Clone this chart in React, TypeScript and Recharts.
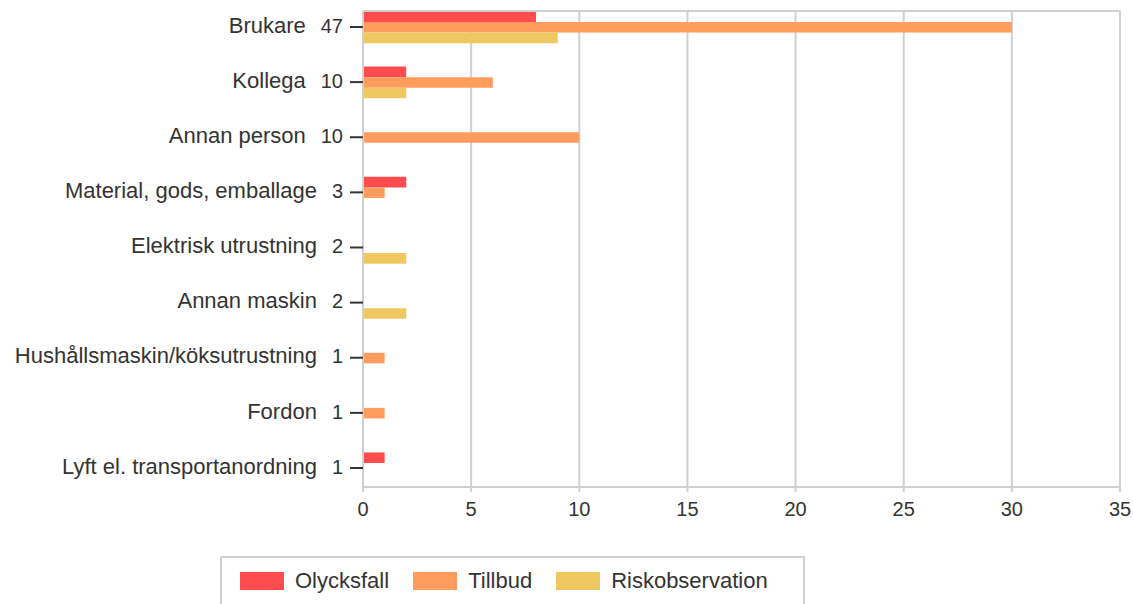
import { BarChart, Bar, XAxis, YAxis, CartesianGrid, ReferenceLine } from 'recharts'

const CATEGORIES = [
  'Brukare',
  'Kollega',
  'Annan person',
  'Material, gods, emballage',
  'Elektrisk utrustning',
  'Annan maskin',
  'Hushållsmaskin/köksutrustning',
  'Fordon',
  'Lyft el. transportanordning',
]

const OLYCKSFALL = [8, 2, 0, 2, 0, 0, 0, 0, 1]
const TILLBUD = [30, 6, 10, 1, 0, 0, 1, 1, 0]
const RISKOBSERVATION = [9, 2, 0, 0, 2, 2, 0, 0, 0]

const X_TICKS = [0, 5, 10, 15, 20, 25, 30, 35]
const Y_DOMAIN = [-0.29, 8.345]

const SERIES = [
  { key: 'olycksfall', name: 'Olycksfall', color: '#ff4d4f' },
  { key: 'tillbud', name: 'Tillbud', color: '#ff9c5e' },
  { key: 'risk', name: 'Riskobservation', color: '#efc862' },
]

const FONT = '"Liberation Sans", Arial, sans-serif'
const TEXT = '#333333'
const GRID = '#d0d0d0'

const data = CATEGORIES.map((name, idx) => ({
  idx,
  name,
  total: OLYCKSFALL[idx] + TILLBUD[idx] + RISKOBSERVATION[idx],
  olycksfall: OLYCKSFALL[idx],
  tillbud: TILLBUD[idx],
  risk: RISKOBSERVATION[idx],
}))

function CategoryTick(props: any) {
  const { x, y, payload } = props
  const row = data[payload.value]
  if (!row) return null
  return (
    <text x={x} y={y} dy="0.355em" textAnchor="end" fill={TEXT} fontFamily={FONT}>
      <tspan fontSize={22}>{row.name}</tspan>
      <tspan fontSize={20} dx={15}>{row.total}</tspan>
    </text>
  )
}

export default function App() {
  return (
    <div style={{ position: 'relative', width: 1125, height: 596, overflow: 'hidden', fontFamily: FONT }}>
      <style>{'html, body { overflow: hidden; } body { margin: 8px 0 0 8px; } .recharts-surface { overflow: visible; }'}</style>
      <BarChart
        width={1125}
        height={530}
        data={data}
        layout="vertical"
        barGap={0}
        margin={{ top: 3, right: 13, left: 0, bottom: 11 }}
      >
        <CartesianGrid horizontal={false} stroke={GRID} strokeWidth={2} />
        <XAxis
          type="number"
          domain={[0, 35]}
          ticks={X_TICKS}
          height={40}
          stroke={GRID}
          strokeWidth={2}
          tickSize={5}
          tickMargin={10}
          tick={{ fill: TEXT, fontSize: 20, fontFamily: FONT }}
        />
        <YAxis
          type="number"
          dataKey="idx"
          allowDataOverflow
          domain={Y_DOMAIN}
          ticks={CATEGORIES.map((_, i) => i)}
          width={355}
          axisLine={{ stroke: GRID, strokeWidth: 2 }}
          tickLine={{ stroke: TEXT, strokeWidth: 2 }}
          tickSize={13}
          tickMargin={7}
          tick={<CategoryTick />}
          interval={0}
        />
        <ReferenceLine y={Y_DOMAIN[0]} stroke={GRID} strokeWidth={2} ifOverflow="extendDomain" />
        {SERIES.map(s => (
          <Bar
            key={s.key}
            dataKey={s.key}
            name={s.name}
            fill={s.color}
            barSize={10.6}
            isAnimationActive={false}
          />
        ))}
      </BarChart>
      <div
        style={{
          position: 'absolute',
          left: 212,
          top: 548,
          width: 585,
          height: 60,
          border: `2px solid ${GRID}`,
          boxSizing: 'border-box',
          display: 'flex',
          alignItems: 'flex-start',
          paddingLeft: 18,
          paddingTop: 14,
          fontSize: 22,
          color: TEXT,
          background: '#fff',
        }}
      >
        {SERIES.map(s => (
          <span key={s.key} style={{ display: 'flex', alignItems: 'center', marginRight: 24, lineHeight: '18px' }}>
            <span style={{ width: 44, height: 18, background: s.color, display: 'inline-block', marginRight: 11 }} />
            {s.name}
          </span>
        ))}
      </div>
    </div>
  )
}
